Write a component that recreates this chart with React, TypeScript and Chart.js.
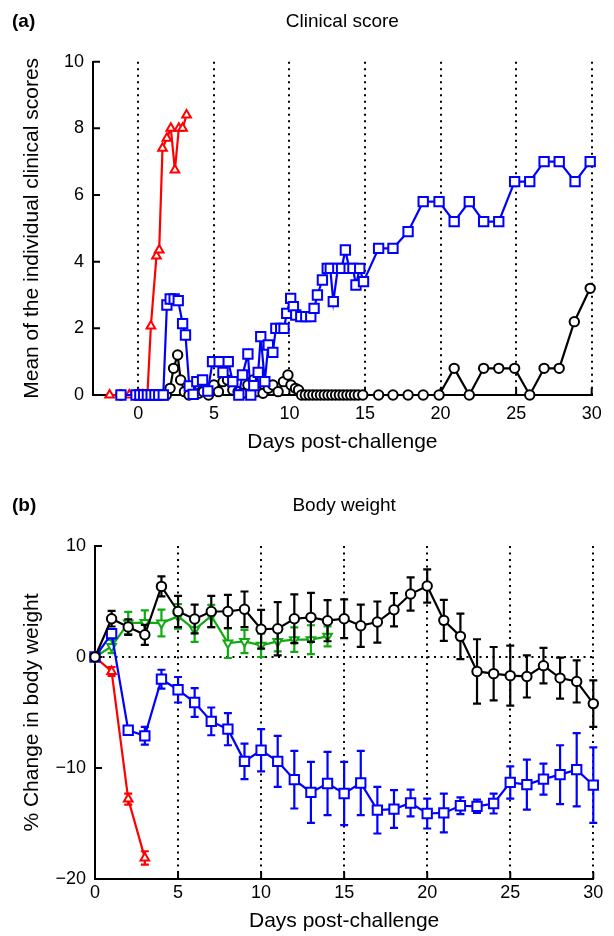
import React, { useEffect, useRef } from 'react';
import { Chart, registerables } from 'chart.js';
Chart.register(...registerables);

const FONT = '"Liberation Sans", Arial, Helvetica, sans-serif';

// ---------- Panel (a): Clinical score ----------
const scoreXTicks = [0, 5, 10, 15, 20, 25, 30];
const scoreYTicks = [0, 2, 4, 6, 8, 10];

const redDaysA = [-1.9, -0.6, 0.0, 0.3, 0.6, 0.83, 1.2, 1.38, 1.6, 1.89, 2.15, 2.42, 2.68, 2.93, 3.19];
const redScoreA = [0, 0, 0, 0, 0, 2.07, 4.17, 4.35, 7.4, 7.7, 8.0, 6.75, 8.0, 8.0, 8.4];

const blueDaysA = [-1.15, -0.15, 0.1, 0.35, 0.6, 0.85, 1.1, 1.35, 1.65, 1.89, 2.11, 2.37, 2.64, 2.93, 3.12,
  3.37, 3.63, 3.87, 4.25, 4.6, 4.91, 5.35, 5.6, 5.95, 6.25, 6.65, 6.89, 7.25, 7.44, 7.64,
  7.93, 8.1, 8.37, 8.6, 8.9, 9.1, 9.42, 9.64, 9.82, 10.08, 10.26, 10.42, 10.75, 11.08, 11.41,
  11.63, 11.85, 12.18, 12.5, 12.7, 12.9, 13.2, 13.45, 13.7, 13.95, 14.2, 14.4, 14.65, 14.9,
  15.9, 16.85, 17.85, 18.85, 19.9, 20.9, 21.9, 22.85, 23.85, 24.9, 25.9, 26.85, 27.85, 28.9, 29.9];
const blueScoreA = [0, 0, 0, 0, 0, 0, 0, 0, 0, 2.7, 2.88, 2.88, 2.83, 2.14, 1.8,
  0.27, 0.02, 0.4, 0.45, 0.12, 1.0, 1.0, 0.68, 1.0, 0.4, 0, 0.6, 1.23, 0, 0.28,
  0.68, 1.75, 0.4, 1.5, 1.28, 2.0, 2.0, 2.0, 2.45, 2.9, 2.65, 2.4, 2.35, 2.35, 2.35,
  2.6, 3.0, 3.45, 3.8, 3.8, 2.8, 3.8, 3.8, 4.35, 3.8, 3.8, 3.3, 3.8, 3.4,
  4.4, 4.4, 4.9, 5.8, 5.8, 5.2, 5.8, 5.2, 5.2, 6.4, 6.4, 7.0, 7.0, 6.4, 7.0];

const blackDaysA = [-1.15, -0.15, 0.2, 0.5, 0.85, 1.15, 1.5, 1.85, 2.1, 2.33, 2.6, 2.8, 3.05, 3.35, 3.7,
  4.0, 4.3, 4.65, 5.0, 5.3, 5.6, 5.9, 6.25, 6.6, 6.9, 7.25, 7.6, 7.9, 8.25, 8.6,
  8.9, 9.25, 9.6, 9.9, 10.1, 10.4, 10.6, 10.8, 11.05, 11.3, 11.55, 11.8, 12.05, 12.3, 12.55,
  12.8, 13.05, 13.3, 13.55, 13.8, 14.05, 14.3, 14.55, 14.85,
  15.9, 16.85, 17.85, 18.85, 19.9, 20.9, 21.9, 22.85, 23.85, 24.9, 25.9, 26.85, 27.85, 28.85, 29.9];
const blackScoreA = [0, 0, 0, 0, 0, 0, 0, 0, 0.2, 0.8, 1.2, 0.45, 0.1, 0, 0.25,
  0.05, 0.1, 0, 0.3, 0.1, 0.4, 0.45, 0.15, 0.1, 0.05, 0.3, 0.45, 0.1, 0.05, 0.2,
  0.3, 0.1, 0.4, 0.6, 0.3, 0.2, 0.15, 0, 0, 0, 0, 0, 0, 0, 0,
  0, 0, 0, 0, 0, 0, 0, 0, 0,
  0, 0, 0, 0, 0, 0.8, 0, 0.8, 0.8, 0.8, 0, 0.8, 0.8, 2.2, 3.2];

// ---------- Panel (b): Body weight ----------
const weightXTicks = [0, 5, 10, 15, 20, 25, 30];
const weightYTicks = [-20, -10, 0, 10];

const daysB = [0, 1, 2, 3, 4, 5, 6, 7, 8, 9, 10, 11, 12, 13, 14, 15, 16, 17, 18, 19, 20, 21, 22, 23, 24, 25, 26, 27, 28, 29, 30];

const blackWeight = [0, 3.45, 2.7, 2.0, 6.36, 4.1, 3.42, 4.1, 4.1, 4.3, 2.5, 2.55, 3.45, 3.57, 3.27, 3.45,
  2.82, 3.15, 4.26, 5.67, 6.4, 3.3, 1.86, -1.3, -1.5, -1.68, -1.75, -0.78, -1.9, -2.2, -4.2];
const blackWeightErr = [0, 0.7, 0.7, 0.9, 0.9, 1.4, 1.3, 1.4, 1.5, 1.6, 1.75, 2.4, 2.2, 2.2, 1.85, 1.75,
  1.9, 1.85, 1.5, 1.5, 1.5, 1.85, 2.05, 2.9, 2.4, 2.7, 1.9, 1.6, 1.85, 1.9, 2.1];

const greenDaysB = [0, 1, 2, 3, 4, 5, 6, 7, 8, 9, 10, 11, 12, 13, 14];
const greenWeight = [0, 0.95, 3.06, 3.1, 3.06, 3.66, 2.46, 3.7, 1.26, 1.4, 1.05, 1.4, 1.56, 1.56, 1.86];
const greenWeightErr = [0, 0.6, 1.0, 1.1, 1.2, 1.1, 1.1, 1.0, 1.35, 1.05, 1.05, 0.9, 1.1, 1.3, 0.9];

const blueWeight = [0, 2.1, -6.6, -7.1, -2.0, -2.95, -4.1, -5.8, -6.5, -9.4, -8.4, -9.4, -11.05, -12.2, -11.4, -12.3,
  -11.35, -13.8, -13.7, -13.15, -14.1, -14.05, -13.4, -13.45, -13.2, -11.3, -11.5, -11.0, -10.6, -10.15, -11.55];
const blueWeightErr = [0, 0.4, 0.3, 0.8, 0.85, 1.15, 1.3, 1.25, 1.45, 1.6, 1.9, 2.3, 2.6, 2.75, 2.85, 2.85,
  2.9, 2.1, 1.7, 1.2, 1.35, 1.75, 0.75, 0.6, 0.9, 1.45, 2.25, 1.4, 2.65, 3.3, 3.4];

const redDaysB = [0, 1, 2, 3];
const redWeight = [0, -1.3, -12.8, -18.1];
const redWeightErr = [0, 0.4, 0.5, 0.6];

// ---------- helpers ----------
const pts = (xs: number[], ys: number[]) => xs.map((x, i) => ({ x, y: ys[i] }));
const minusFmt = (v: number) => (v < 0 ? '\u2212' + Math.abs(v) : String(v));

const inwardTicks = {
  id: 'inwardTicks',
  beforeDatasetsDraw(chart: any, _a: any, opts: any) {
    const { ctx, chartArea } = chart;
    const len = opts.length ?? 7;
    const xs = chart.scales.x;
    const ys = chart.scales.y;
    ctx.save();
    ctx.strokeStyle = '#000';
    ctx.lineWidth = 2;
    ctx.beginPath();
    ys.ticks.forEach((t: any) => {
      const y = ys.getPixelForValue(t.value);
      ctx.moveTo(chartArea.left, y);
      ctx.lineTo(chartArea.left + len, y);
    });
    xs.ticks.forEach((t: any) => {
      const x = xs.getPixelForValue(t.value);
      ctx.moveTo(x, chartArea.bottom);
      ctx.lineTo(x, chartArea.bottom - len);
    });
    ctx.stroke();
    ctx.restore();
  },
};

const errorBars = {
  id: 'errorBars',
  beforeDatasetDraw(chart: any, args: any) {
    const ds = chart.data.datasets[args.index];
    if (!ds.errors) return;
    const ys = chart.scales.y;
    const ctx = chart.ctx;
    const meta = args.meta;
    ctx.save();
    ctx.strokeStyle = ds.borderColor;
    ctx.lineWidth = 2.2;
    ctx.beginPath();
    meta.data.forEach((pt: any, i: number) => {
      const e = ds.errors[i];
      if (!e) return;
      const v = ds.data[i].y;
      const top = ys.getPixelForValue(v + e);
      const bot = ys.getPixelForValue(v - e);
      const cap = 4;
      ctx.moveTo(pt.x, top);
      ctx.lineTo(pt.x, bot);
      ctx.moveTo(pt.x - cap, top);
      ctx.lineTo(pt.x + cap, top);
      ctx.moveTo(pt.x - cap, bot);
      ctx.lineTo(pt.x + cap, bot);
    });
    ctx.stroke();
    ctx.restore();
  },
};

const panelLabel = {
  id: 'panelLabel',
  afterDraw(chart: any, _a: any, opts: any) {
    const ctx = chart.ctx;
    ctx.save();
    ctx.font = `bold 19px ${FONT}`;
    ctx.fillStyle = '#000';
    ctx.textBaseline = 'middle';
    ctx.textAlign = 'left';
    ctx.fillText(opts.text, opts.x, opts.y);
    ctx.restore();
  },
};

const series = (label: string, color: string, style: string, radius: number, data: any[], extra: any = {}) => ({
  label,
  data,
  borderColor: color,
  backgroundColor: '#ffffff',
  pointBackgroundColor: '#ffffff',
  pointBorderColor: color,
  pointStyle: style,
  pointRadius: radius,
  pointBorderWidth: 2,
  borderWidth: 2.2,
  tension: 0,
  clip: false,
  ...extra,
});

function dottedGridColor(skipZero: boolean) {
  return (c: any) => {
    if (!c.tick) return 'rgba(0,0,0,0)';
    if (skipZero && c.tick.value === 0) return 'rgba(0,0,0,0)';
    return '#000';
  };
}

const AXIS_TITLE_FONT = { family: FONT, size: 21 };
const TICK_FONT = { family: FONT, size: 18 };

function ClinicalChart() {
  const ref = useRef<HTMLCanvasElement>(null);
  useEffect(() => {
    const chart = new Chart(ref.current!, {
      type: 'line',
      data: {
        datasets: [
          series('Blue', '#0000ff', 'rect', 6.6, pts(blueDaysA, blueScoreA)),
          series('Red', '#ff0000', 'triangle', 5, pts(redDaysA, redScoreA)),
          series('Black', '#000000', 'circle', 4.7, pts(blackDaysA, blackScoreA)),
        ] as any,
      },
      plugins: [inwardTicks, panelLabel],
      options: {
        animation: false,
        responsive: false,
        events: [],
        layout: { padding: { left: 19.4, right: 22.3, top: 0, bottom: 15.4 } },
        plugins: {
          legend: { display: false },
          tooltip: { enabled: false },
          title: {
            display: true,
            text: 'Clinical score',
            fullSize: false,
            color: '#000',
            font: { family: FONT, size: 19, weight: 'normal' },
            padding: { top: 10.6, bottom: 28.3 },
          },
          inwardTicks: { length: 7 },
          panelLabel: { text: '(a)', x: 12, y: 22 },
        } as any,
        scales: {
          x: {
            type: 'linear',
            min: -3,
            max: 30,
            afterBuildTicks: (s: any) => { s.ticks = scoreXTicks.map((value) => ({ value })); },
            afterFit: (s: any) => { s.height = 59.6; },
            ticks: { color: '#000', font: TICK_FONT, padding: 8, maxRotation: 0 },
            grid: { color: dottedGridColor(false), lineWidth: 2, drawTicks: false },
            border: { display: true, color: '#000', width: 2, dash: [2, 4.5] },
            title: { display: true, text: 'Days post-challenge', color: '#000', font: AXIS_TITLE_FONT, padding: 0 },
          },
          y: {
            type: 'linear',
            min: 0,
            max: 10,
            afterBuildTicks: (s: any) => { s.ticks = scoreYTicks.map((value) => ({ value })); },
            afterFit: (s: any) => { s.width = 73.6; },
            ticks: { color: '#000', font: TICK_FONT, padding: 9 },
            grid: { display: false, drawTicks: false },
            border: { display: true, color: '#000', width: 2 },
            title: { display: true, text: 'Mean of the individual clinical scores', color: '#000', font: AXIS_TITLE_FONT, padding: 0 },
          },
        },
      } as any,
    });
    return () => chart.destroy();
  }, []);
  return <canvas ref={ref} width={614} height={470} style={{ display: 'block' }} />;
}

function WeightChart() {
  const ref = useRef<HTMLCanvasElement>(null);
  useEffect(() => {
    const chart = new Chart(ref.current!, {
      type: 'line',
      data: {
        datasets: [
          series('Black', '#000000', 'circle', 4.7, pts(daysB, blackWeight), { errors: blackWeightErr }),
          series('Blue', '#0000ff', 'rect', 6.6, pts(daysB, blueWeight), { errors: blueWeightErr }),
          series('Green', '#11aa11', 'triangle', 5, pts(greenDaysB, greenWeight), { errors: greenWeightErr, pointRotation: 180 }),
          series('Red', '#ff0000', 'triangle', 5, pts(redDaysB, redWeight), { errors: redWeightErr }),
        ] as any,
      },
      plugins: [inwardTicks, errorBars, panelLabel],
      options: {
        animation: false,
        responsive: false,
        events: [],
        layout: { padding: { left: 19.4, right: 20.7, top: 0, bottom: 2.4 } },
        plugins: {
          legend: { display: false },
          tooltip: { enabled: false },
          title: {
            display: true,
            text: 'Body weight',
            fullSize: false,
            color: '#000',
            font: { family: FONT, size: 19, weight: 'normal' },
            padding: { top: 24.6, bottom: 28.6 },
          },
          inwardTicks: { length: 7 },
          panelLabel: { text: '(b)', x: 12, y: 36 },
        } as any,
        scales: {
          x: {
            type: 'linear',
            min: 0,
            max: 30,
            afterBuildTicks: (s: any) => { s.ticks = weightXTicks.map((value) => ({ value })); },
            afterFit: (s: any) => { s.height = 54.6; },
            ticks: { color: '#000', font: TICK_FONT, padding: 3, maxRotation: 0 },
            grid: { color: dottedGridColor(true), lineWidth: 2, drawTicks: false },
            border: { display: true, color: '#000', width: 2, dash: [2, 4.5] },
            title: { display: true, text: 'Days post-challenge', color: '#000', font: AXIS_TITLE_FONT, padding: 0 },
          },
          y: {
            type: 'linear',
            min: -20,
            max: 10,
            afterBuildTicks: (s: any) => { s.ticks = weightYTicks.map((value) => ({ value })); },
            afterFit: (s: any) => { s.width = 75.6; },
            ticks: { color: '#000', font: TICK_FONT, padding: 9, callback: (v: any) => minusFmt(Number(v)) },
            grid: {
              color: (c: any) => (c.tick && c.tick.value === 0 ? '#000' : 'rgba(0,0,0,0)'),
              lineWidth: 2,
              drawTicks: false,
            },
            border: { display: true, color: '#000', width: 2, dash: [2, 4.5] },
            title: { display: true, text: '% Change in body weight', color: '#000', font: AXIS_TITLE_FONT, padding: 0 },
          },
        },
      } as any,
    });
    return () => chart.destroy();
  }, []);
  return <canvas ref={ref} width={614} height={466} style={{ display: 'block' }} />;
}

export default function App() {
  return (
    <div style={{ position: 'absolute', left: 0, top: 0, width: 614, height: 936, background: '#fff' }}>
      <ClinicalChart />
      <WeightChart />
    </div>
  );
}
